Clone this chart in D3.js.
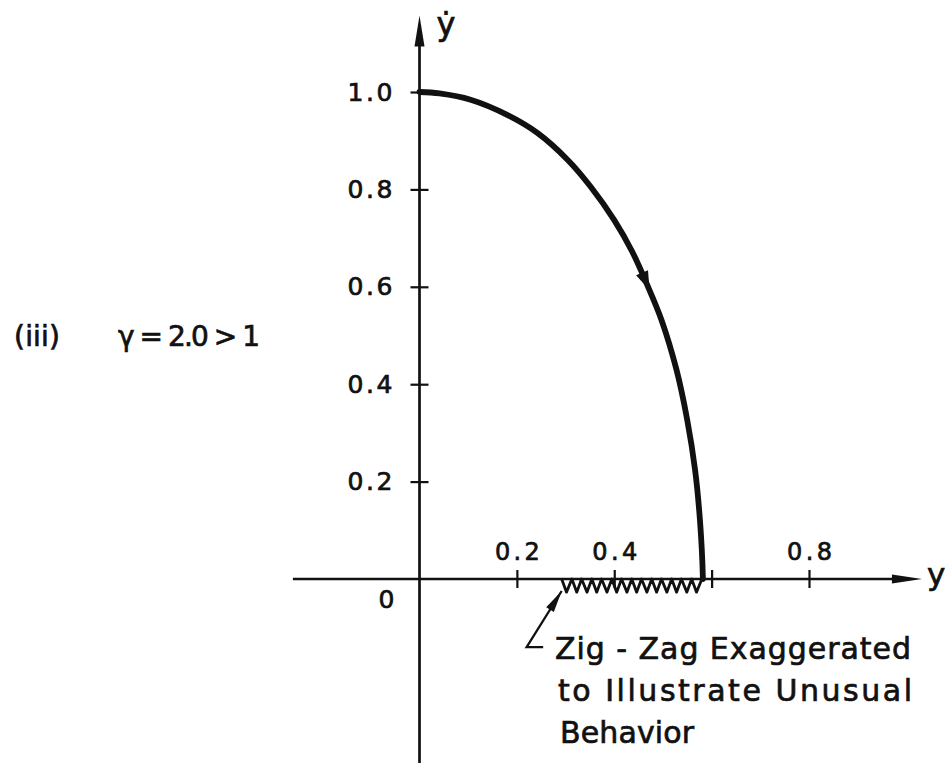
<!DOCTYPE html>
<html>
<head>
<meta charset="utf-8">
<script src="https://cdn.jsdelivr.net/npm/d3@7"></script>
<style>
  html, body { margin: 0; padding: 0; background: #fff; }
  svg { display: block; }
  text { font-family: "DejaVu Sans", "Liberation Sans", sans-serif; fill: #111; stroke: #111; stroke-width: 0.7px; }
</style>
</head>
<body>
<svg id="chart" width="947" height="766"></svg>
<script>
// Phase-plane trajectory (y, ẏ) for γ = 2.0
const trajY    = [0, 0.041, 0.105, 0.180, 0.242, 0.305, 0.352, 0.400, 0.437, 0.466, 0.497, 0.528, 0.550, 0.566, 0.576, 0.582, 0.582];
const trajYdot = [1.0, 0.997, 0.984, 0.953, 0.916, 0.860, 0.805, 0.737, 0.672, 0.608, 0.532, 0.429, 0.326, 0.224, 0.121, 0.004, 0];

// Zig-zag along the y axis (vertices)
const zigY    = [0.292, 0.302, 0.313, 0.323, 0.333, 0.344, 0.354, 0.364, 0.374, 0.385, 0.395, 0.405, 0.415, 0.426, 0.436,
                 0.446, 0.456, 0.467, 0.477, 0.487, 0.497, 0.508, 0.518, 0.528, 0.538, 0.549, 0.559, 0.569, 0.580];
const zigYdot = [0, -0.027, 0, -0.027, 0, -0.027, 0, -0.027, 0, -0.027, 0, -0.027, 0, -0.027, 0,
                 -0.027, 0, -0.027, 0, -0.027, 0, -0.027, 0, -0.027, 0, -0.027, 0, -0.027, 0];

// Axis ticks and labels
const xTicks = [0.2, 0.4, 0.6, 0.8];
const xTickLabels = ["0.2", "0.4", "", "0.8"];
const yTicks = [0.2, 0.4, 0.6, 0.8, 1.0];
const yTickLabels = ["0.2", "0.4", "0.6", "0.8", "1.0"];

// Direction arrow on the trajectory (index into the trajectory)
const arrowIndex = 9;

// Annotation
const noteLines = ["Zig - Zag Exaggerated", "to Illustrate Unusual", "Behavior"];
const caseLabel = "(iii)";
const gammaLabel = "γ = 2.0 > 1";

const svg = d3.select("#chart");
const x = d3.scaleLinear().domain([0, 0.8]).range([419.5, 809]);
const y = d3.scaleLinear().domain([0, 1]).range([579, 92]);

const ink = "#111";

// Axis lines
svg.append("line")
  .attr("x1", x(-0.26)).attr("x2", x(1.0))
  .attr("y1", y(0)).attr("y2", y(0))
  .attr("stroke", ink).attr("stroke-width", 2.5);
svg.append("line")
  .attr("x1", x(0)).attr("x2", x(0))
  .attr("y1", y(-0.378)).attr("y2", y(1.12))
  .attr("stroke", ink).attr("stroke-width", 2.7);

// Arrowheads on the axes
const xTip = x(1.032), yTip = y(1.157);
svg.append("path")
  .attr("d", `M${xTip},${y(0)} L${xTip - 30},${y(0) - 4.5} L${xTip - 30},${y(0) + 4.5} Z`)
  .attr("fill", ink);
svg.append("path")
  .attr("d", `M${x(0)},${yTip} L${x(0) - 5},${yTip + 31} L${x(0) + 5},${yTip + 31} Z`)
  .attr("fill", ink);

// x ticks (crossing the axis), labels above
const xAxis = svg.append("g")
  .attr("transform", `translate(0,${y(0)})`)
  .call(d3.axisTop(x).tickValues(xTicks).tickSize(9).tickPadding(10)
        .tickFormat((d, i) => xTickLabels[i]));
xAxis.select(".domain").remove();
xAxis.selectAll(".tick line").attr("y1", 9).attr("y2", -9)
  .attr("stroke", ink).attr("stroke-width", 2.2);
xAxis.selectAll(".tick text")
  .style("font-size", "24px").style("font-family", "'DejaVu Sans', sans-serif")
  .attr("fill", ink)
  .each(function(d, i) { if (xTickLabels[i]) d3.select(this).attr("textLength", 45).attr("lengthAdjust", "spacing"); });

// y ticks (crossing the axis), labels to the left
const yAxis = svg.append("g")
  .attr("transform", `translate(${x(0)},0)`)
  .call(d3.axisLeft(y).tickValues(yTicks).tickSize(9).tickPadding(18)
        .tickFormat((d, i) => yTickLabels[i]));
yAxis.select(".domain").remove();
yAxis.selectAll(".tick line").attr("x1", 9).attr("x2", -9)
  .attr("stroke", ink).attr("stroke-width", 2.2);
yAxis.selectAll(".tick text")
  .style("font-size", "25px").style("font-family", "'DejaVu Sans', sans-serif")
  .attr("fill", ink)
  .attr("textLength", 45).attr("lengthAdjust", "spacing");

// Origin label
svg.append("text")
  .attr("x", x(0) - 33).attr("y", y(0) + 29)
  .attr("text-anchor", "middle").style("font-size", "25px")
  .text("0");

// Axis titles
svg.append("text")
  .attr("x", x(0) + 17).attr("y", 35)
  .style("font-size", "32px")
  .text("ẏ");
svg.append("text")
  .attr("x", 927).attr("y", y(0) + 6)
  .style("font-size", "31px")
  .text("y");

// Trajectory
const pts = trajY.map((v, i) => [v, trajYdot[i]]);
const line = d3.line().x(d => x(d[0])).y(d => y(d[1])).curve(d3.curveCatmullRom.alpha(0.5));
svg.append("path")
  .datum(pts)
  .attr("d", line)
  .attr("fill", "none").attr("stroke", ink)
  .attr("stroke-width", 5.8).attr("stroke-linecap", "round");

// Direction arrow on the trajectory
{
  const p0 = pts[arrowIndex - 1], p1 = pts[arrowIndex], p2 = pts[arrowIndex + 1];
  const ang = Math.atan2(y(p2[1]) - y(p0[1]), x(p2[0]) - x(p0[0])) * 180 / Math.PI;
  svg.append("path")
    .attr("d", "M8,0 L-11,-6.5 L-11,6.5 Z")
    .attr("transform", `translate(${x(p1[0])},${y(p1[1])}) rotate(${ang})`)
    .attr("fill", ink);
}

// Zig-zag
svg.append("path")
  .datum(zigY.map((v, i) => [v, zigYdot[i]]))
  .attr("d", d3.line().x(d => x(d[0])).y(d => y(d[1])))
  .attr("fill", "none").attr("stroke", ink)
  .attr("stroke-width", 2.8).attr("stroke-linejoin", "round");

// Leader arrow to the zig-zag
{
  const tipX = x(zigY[0]), tipY = y(0) + 12;
  const cornerX = x(0.220), cornerY = y(-0.140);
  svg.append("path")
    .attr("d", `M${x(0.254)},${cornerY} L${cornerX},${cornerY} L${tipX},${tipY}`)
    .attr("fill", "none").attr("stroke", ink).attr("stroke-width", 2.3);
  const ang = Math.atan2(tipY - cornerY, tipX - cornerX) * 180 / Math.PI;
  svg.append("path")
    .attr("d", "M0,0 L-22,-4.5 L-22,4.5 Z")
    .attr("transform", `translate(${tipX},${tipY}) rotate(${ang})`)
    .attr("fill", ink);
}

// Annotation text
const noteWidths = [356, 354, 134];
const noteX = [555, 558, 560];
noteLines.forEach((t, i) => {
  svg.append("text")
    .attr("x", noteX[i]).attr("y", 659 + i * 42)
    .style("font-size", "30px")
    .attr("textLength", noteWidths[i]).attr("lengthAdjust", "spacing")
    .text(t);
});

// Case label
svg.append("text")
  .attr("x", 14).attr("y", 346)
  .style("font-size", "28px")
  .attr("textLength", 46).attr("lengthAdjust", "spacing")
  .text(caseLabel);
svg.append("text")
  .attr("x", 118).attr("y", 346)
  .style("font-size", "28px")
  .attr("textLength", 142).attr("lengthAdjust", "spacing")
  .text(gammaLabel);
</script>
</body>
</html>
